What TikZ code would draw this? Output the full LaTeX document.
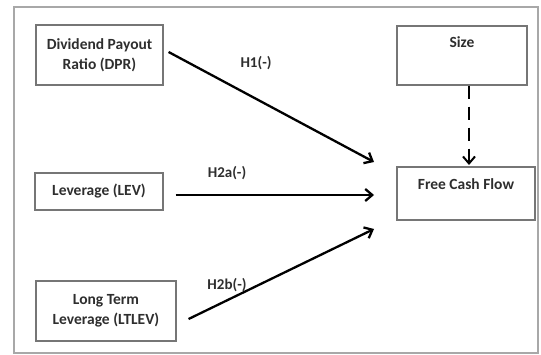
\documentclass[tikz,border=0pt]{standalone}
\usepackage{fontspec}
\setmainfont{Carlito}
\usetikzlibrary{positioning,arrows.meta}
\definecolor{FrameGray}{HTML}{A8A8A8}
\definecolor{BoxGray}{HTML}{767676}
\definecolor{TextGray}{HTML}{2E2E2E}

\begin{document}
\begin{tikzpicture}[x=1pt,y=1pt,
  varbox/.style={draw=BoxGray, line width=1.2pt, text=TextGray, align=center, inner sep=0pt,
    font=\bfseries\fontsize{15.5}{20}\selectfont},
  boxtext/.style={text=TextGray, inner sep=0pt, font=\bfseries\fontsize{15.5}{20}\selectfont},
  hyp/.style={-{Straight Barb[length=7pt,width=12pt]}, line width=2.3pt},
  hlabel/.style={text=TextGray, inner sep=0pt, font=\bfseries\fontsize{15}{16}\selectfont}]
  \useasboundingbox (0,0) rectangle (541,354);
  \draw[FrameGray, line width=1.5pt] (14,1) rectangle (538,347);

  % explanatory variables
  \node[varbox, minimum width=127pt, minimum height=60pt] (dpr) at (99.5,299) {Dividend Payout\\Ratio (DPR)};
  \node[varbox, minimum width=128pt, minimum height=37pt] (lev) at (99,162.5) {Leverage (LEV)};
  \node[varbox, minimum width=140pt, minimum height=60pt] (ltlev) at (106,43) {Long Term\\Leverage (LTLEV)};

  % control and dependent variable
  \node[varbox, minimum width=130pt, minimum height=59pt] (size) at (462,298.5) {};
  \node[boxtext] (sizetxt) at ([yshift=-17pt]size.north) {Size};
  \node[varbox, minimum width=138pt, minimum height=53pt] (fcf) at (466,160.5) {};
  \node[boxtext] (fcftxt) at ([yshift=-18pt]fcf.north) {Free Cash Flow};

  \coordinate (h1end) at (374,192);
  \coordinate (h2aend) at (374,159);
  \coordinate (h2bend) at (374,125);
  \coordinate (sizeend) at (469,189);

  \draw[hyp] ([xshift=5pt,yshift=3pt]dpr.east) -- (h1end);
  \draw[hyp] ([xshift=12pt,yshift=-3.5pt]lev.east) -- (h2aend);
  \draw[hyp] ([xshift=12pt,yshift=-8pt]ltlev.east) -- (h2bend);
  \draw[hyp, line width=2pt, dash pattern=on 13pt off 8pt] ([xshift=7pt]size.south) -- (sizeend);

  \node[hlabel] (h1) at (256,291) {H1(-)};
  \node[hlabel] (h2a) at (227,181) {H2a(-)};
  \node[hlabel] (h2b) at (227,69) {H2b(-)};
\end{tikzpicture}
\end{document}
